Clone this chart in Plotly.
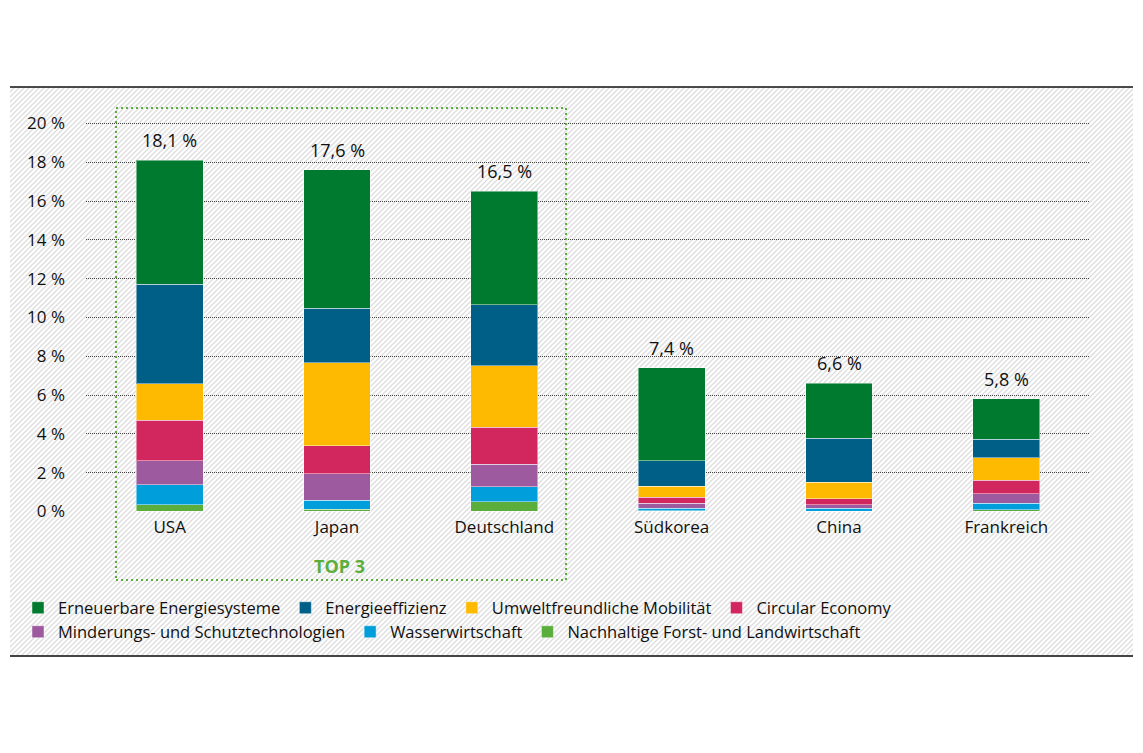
import base64
import plotly.graph_objects as go

# Anteil am Welthandel mit Umwelt- und Klimaschutzgütern (in %)
laender = ["USA", "Japan", "Deutschland", "Südkorea", "China", "Frankreich"]
gesamt = [18.1, 17.6, 16.5, 7.4, 6.6, 5.8]

forst_landwirtschaft = [0.34, 0.10, 0.50, 0.03, 0.02, 0.09]
wasserwirtschaft = [1.03, 0.47, 0.77, 0.14, 0.15, 0.34]
minderung_schutz = [1.23, 1.36, 1.17, 0.26, 0.17, 0.48]
circular_economy = [2.10, 1.45, 1.89, 0.29, 0.31, 0.69]
mobilitaet = [1.88, 4.29, 3.19, 0.57, 0.86, 1.16]
energieeffizienz = [5.14, 2.80, 3.12, 1.31, 2.27, 0.95]
erneuerbare = [6.38, 7.13, 5.86, 4.80, 2.82, 2.09]

y_ticks = list(range(0, 21, 2))
y_ticktext = [f"{v} %" for v in y_ticks]

W, H = 1143, 753
L, R, T, B = 86, 1090, 104, 512   # plot area in pixels


def px_x(px):
    return (px - L) / (R - L)


def px_y(py):
    return (B - py) / (B - T)


FONT = "Open Sans"

serien = [
    ("Nachhaltige Forst- und Landwirtschaft", forst_landwirtschaft, "#5bae3c", "legend2"),
    ("Wasserwirtschaft", wasserwirtschaft, "#009edb", "legend2"),
    ("Minderungs- und Schutztechnologien", minderung_schutz, "#9d5a9e", "legend2"),
    ("Circular Economy", circular_economy, "#d2275e", "legend"),
    ("Umweltfreundliche Mobilität", mobilitaet, "#fdba00", "legend"),
    ("Energieeffizienz", energieeffizienz, "#005f87", "legend"),
    ("Erneuerbare Energiesysteme", erneuerbare, "#007a2f", "legend"),
]

fig = go.Figure()
for name, werte, farbe, leg in serien:
    fig.add_trace(go.Bar(
        x=laender, y=werte, name=name, legend=leg,
        marker=dict(color=farbe, line=dict(color="rgba(255,255,255,0.45)", width=1)),
        hoverinfo="skip",
    ))

# Summenbeschriftung über den Säulen
for land, wert in zip(laender, gesamt):
    fig.add_annotation(
        x=land, y=wert, yshift=20, showarrow=False,
        text=f"{wert:.1f} %".replace(".", ","),
        font=dict(family=FONT, size=18, color="#111"),
    )

# schraffierter Hintergrund
bx0, bx1, by0, by1 = 10, 1133, 87, 656
svg = (
    f'<svg xmlns="http://www.w3.org/2000/svg" width="{bx1-bx0}" height="{by1-by0}">'
    '<defs><pattern id="p" width="5" height="5" patternUnits="userSpaceOnUse">'
    '<path d="M-1,1 l2,-2 M0,5 l5,-5 M4,6 l2,-2" stroke="#dedede" stroke-width="1.4"/>'
    '</pattern></defs>'
    '<rect width="100%" height="100%" fill="#ffffff"/>'
    '<rect width="100%" height="100%" fill="url(#p)"/></svg>'
)
src = "data:image/svg+xml;base64," + base64.b64encode(svg.encode()).decode()
fig.add_layout_image(
    source=src, xref="paper", yref="paper",
    x=px_x(bx0), y=px_y(by0), sizex=px_x(bx1) - px_x(bx0), sizey=px_y(by0) - px_y(by1),
    xanchor="left", yanchor="top", sizing="stretch", layer="below",
)

fig.add_shape(type="line", xref="paper", yref="paper",
              x0=px_x(bx0), x1=px_x(bx1), y0=px_y(by0), y1=px_y(by0),
              line=dict(color="#111", width=1.5))
fig.add_shape(type="line", xref="paper", yref="paper",
              x0=px_x(bx0), x1=px_x(bx1), y0=px_y(by1), y1=px_y(by1),
              line=dict(color="#444", width=2))

# TOP-3-Rahmen
fig.add_shape(type="rect", xref="paper", yref="paper",
              x0=px_x(116), x1=px_x(566), y0=px_y(580), y1=px_y(108),
              line=dict(color="#5bae3c", width=2, dash="2px,3px"))
fig.add_annotation(xref="paper", yref="paper", x=px_x(339), y=px_y(566),
                   xanchor="center", yanchor="middle",
                   text="<b>TOP 3</b>", showarrow=False,
                   font=dict(family=FONT, size=18, color="#5bae3c"))

fig.update_layout(
    width=W, height=H,
    margin=dict(l=L, r=W - R, t=T, b=H - B, pad=0),
    paper_bgcolor="white", plot_bgcolor="rgba(0,0,0,0)",
    barmode="stack", bargap=0.6,
    font=dict(family=FONT, size=17, color="#111"),
    showlegend=True,
    legend=dict(orientation="h", x=px_x(18), xanchor="left", y=px_y(608), yanchor="middle",
                traceorder="reversed", bgcolor="rgba(0,0,0,0)",
                font=dict(family=FONT, size=16.5, color="#111")),
    legend2=dict(orientation="h", x=px_x(18), xanchor="left", y=px_y(632), yanchor="middle",
                 traceorder="reversed", bgcolor="rgba(0,0,0,0)",
                 font=dict(family=FONT, size=16.5, color="#111")),
)
fig.update_xaxes(showgrid=False, showline=False, ticks="", ticklabelstandoff=3,
                 tickfont=dict(family=FONT, size=17, color="#111"))
fig.update_yaxes(range=[-0.03, 21], tickmode="array", tickvals=y_ticks, ticktext=y_ticktext,
                 showgrid=True, gridcolor="#444", gridwidth=1, griddash="1px,1px",
                 zeroline=False, showline=False, ticks="", ticklabelstandoff=20,
                 tickfont=dict(family=FONT, size=17, color="#111"))

# page without body margin, so figure pixels equal page pixels
fig.write_html("out.html", config={"displayModeBar": False},
               post_script="document.body.style.margin='0';")
